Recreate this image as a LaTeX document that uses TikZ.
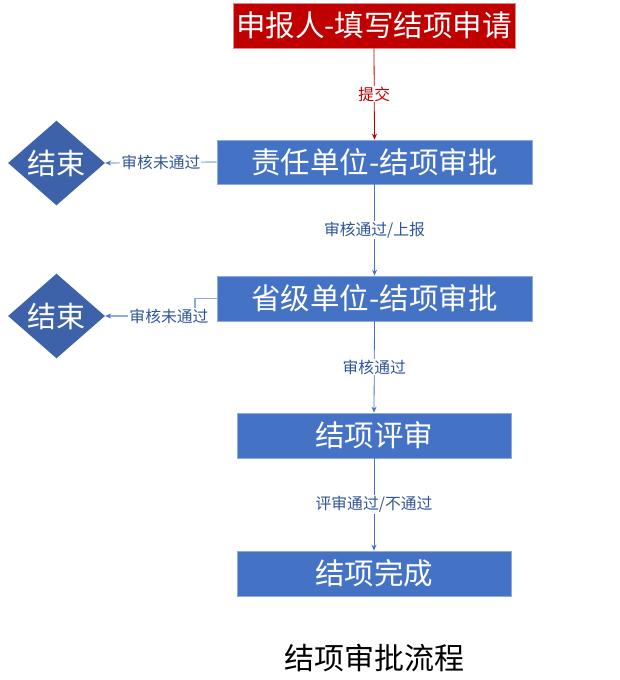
\documentclass[tikz,border=0pt]{standalone}
\usepackage{fontspec}
\setmainfont{Noto Sans CJK SC}
\usetikzlibrary{shapes.geometric,arrows.meta}
\definecolor{boxblue}{HTML}{4472C4}
\definecolor{boxedge}{HTML}{8FAADC}
\definecolor{diablue}{HTML}{3D62AA}
\definecolor{lblblue}{HTML}{2F5597}
\definecolor{darkred}{HTML}{C00000}
\definecolor{rededge}{HTML}{E08A8A}
\tikzset{
  box/.style={draw=boxedge, line width=0.8pt, fill=boxblue, text=white, inner sep=0pt,
    font=\fontsize{29.5}{31}\selectfont},
  redbox/.style={draw=rededge, line width=0.8pt, fill=darkred, text=white, inner sep=0pt,
    font=\fontsize{29.5}{31}\selectfont},
  endnode/.style={diamond, fill=diablue, text=white, inner sep=0pt, minimum width=97pt,
    minimum height=78pt, font=\fontsize{29}{31}\selectfont},
  flow/.style={draw=boxblue, line width=0.8pt, -{Stealth[length=6pt,width=5pt]}},
  redflow/.style={draw=darkred, line width=0.8pt, -{Stealth[length=6pt,width=5pt]}},
  sideflow/.style={draw=boxedge, line width=1.2pt, -{Stealth[length=6pt,width=5pt,color=boxblue]}},
  lbl/.style={fill=white, text=lblblue, inner sep=1pt, font=\fontsize{15.8}{17}\selectfont},
  redlbl/.style={fill=white, text=darkred, inner sep=1pt, font=\fontsize{15.8}{17}\selectfont},
}
\begin{document}
\begin{tikzpicture}[x=1pt,y=-1pt]
\useasboundingbox (0,0) rectangle (620,680);
\node[redbox, minimum width=282pt, minimum height=45pt] (b1) at (374,25.5) {申报人-填写结项申请};
\node[box, minimum width=315pt, minimum height=44pt] (b2) at (374.5,162) {责任单位-结项审批};
\node[box, minimum width=315pt, minimum height=45pt] (b3) at (374.5,298.5) {省级单位-结项审批};
\node[box, minimum width=274pt, minimum height=45pt] (b4) at (374,435.5) {结项评审};
\node[box, minimum width=274pt, minimum height=45pt] (b5) at (374,573.5) {结项完成};
\node[endnode] (d1) at (56.5,163) {结束};
\node[endnode] (d2) at (56.5,316) {结束};
\coordinate (k1) at (195,316);
\node[font=\fontsize{30}{32}\selectfont] (title) at (374,658) {结项审批流程};
\draw[redflow] (b1.south) -- node[redlbl] {提交} (b2.north);
\draw[flow] (b2.south) -- node[lbl] {审核通过/上报} (b3.north);
\draw[flow] (b3.south) -- node[lbl] {审核通过} (b4.north);
\draw[flow] (b4.south) -- node[lbl] {评审通过/不通过} (b5.north);
\draw[sideflow] (b2.west) -- node[lbl] {审核未通过} (d1.east);
\draw[sideflow] (b3.west) -| (k1) -- node[lbl, pos=0.29] {审核未通过} (d2.east);
\end{tikzpicture}
\end{document}
